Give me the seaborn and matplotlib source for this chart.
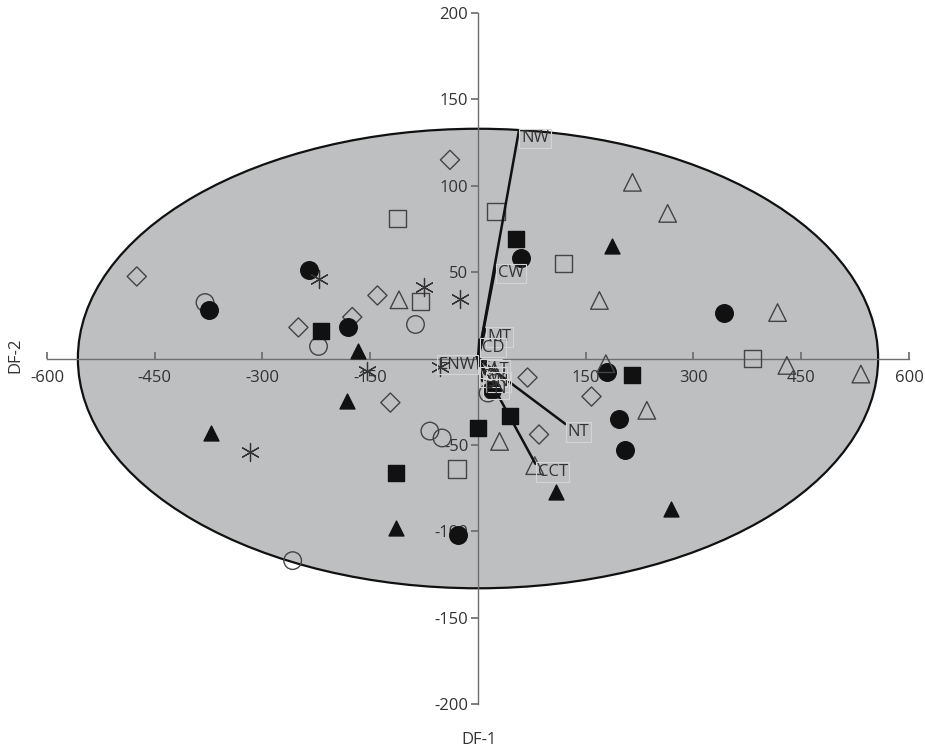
import numpy as np
import pandas as pd
import matplotlib
matplotlib.use("Agg")
import matplotlib.pyplot as plt
import seaborn as sns
from matplotlib.patches import Ellipse

# scores on the two discriminant functions, one pair of lists per group
open_diamond_x = [-475, -39, -140, -175, -250, -122, 69, 158, 85]
open_diamond_y = [47.5, 115, 36.5, 24, 18, -25.5, -11, -22, -44]

open_circle_x = [-380, -222, -87, -67, -50, -258, 14]
open_circle_y = [32.4, 7, 19.7, -42, -46, -117, -20]

filled_circle_x = [-375, -235, -181, 60, 19, 180, 196, 204, 343, -28]
filled_circle_y = [28, 51, 18.5, 58, -18, -8, -35, -53, 26.6, -102]

filled_square_x = [-218, 53, 214, 44, 0, -114]
filled_square_y = [16, 69, -9.5, -33, -40, -66.5]

open_square_x = [-112, -80, 25, 119, 382, -29]
open_square_y = [81, 33, 85, 55, 0, -64]

filled_tri_x = [-167, -182, -371, -114, 186, 108, 268]
filled_tri_y = [4.6, -24.5, -43, -98, 65, -77, -87]

open_tri_x = [-110, 215, 264, 169, 178, 417, 430, 533, 235, 30, 79]
open_tri_y = [34, 102, 84, 33.6, -3, 26.6, -4, -9, -30, -48, -62]

star_x = [-221, -75, -25, -154, -53, -317]
star_y = [46, 41.6, 34.7, -7.5, -5, -54]

# variable loadings (arrow ends) and their labels
var_names = ["NW", "CW", "MT", "CD", "ENW", "ST", "AT", "SW", "SN", "PN", "NT", "CCT"]
var_x = [57, 25, 10, 2, -2, 2, 12, 1, 10, 6, 122, 80]
var_y = [132, 54, 17, 11, 1, -1, -2, -6, -9, -13, -38, -61]

sns.set_theme(style="white")
plt.rcParams["font.family"] = ["Open Sans", "DejaVu Sans"]
plt.rcParams["axes.unicode_minus"] = False

fig = plt.figure(figsize=(9.25, 7.48), dpi=100)
ax = fig.add_axes([0.0508, 0.0588, 0.9319, 0.9238])

ell = Ellipse((0, 0), 2 * 557, 2 * 133, facecolor="#bebfc1", edgecolor="#111111", lw=1.6, zorder=0)
ax.add_patch(ell)

groups = [
    (open_diamond_x, open_diamond_y, "D", "none", "#444444", 95),
    (open_circle_x, open_circle_y, "o", "none", "#444444", 160),
    (filled_circle_x, filled_circle_y, "o", "#111111", "#111111", 160),
    (filled_square_x, filled_square_y, "s", "#111111", "#111111", 140),
    (open_square_x, open_square_y, "s", "none", "#444444", 160),
    (filled_tri_x, filled_tri_y, "^", "#111111", "#111111", 115),
    (open_tri_x, open_tri_y, "^", "none", "#444444", 160),
]
for gx, gy, m, fc, ec, s in groups:
    sns.scatterplot(x=gx, y=gy, marker=m, s=s, facecolor=fc, edgecolor=ec,
                    linewidth=1.0, ax=ax, zorder=3)
sns.scatterplot(x=star_x, y=star_y, marker=(6, 2, 0), s=170, color="#333333",
                linewidth=0.9, ax=ax, zorder=3)

for name, vx, vy in zip(var_names, var_x, var_y):
    ax.plot([0, vx], [0, vy], color="#111111", lw=1.8, zorder=4)
    ha = "right" if name == "ENW" else "left"
    ax.text(vx + (3 if ha == "left" else -1), vy, name, ha=ha, va="top", fontsize=12,
            color="#333333", zorder=5,
            bbox=dict(boxstyle="square,pad=0.1", facecolor="none", edgecolor="#d4d4d4", lw=0.8))

ax.set_xlim(-600, 600)
ax.set_ylim(-200, 200)
ax.set_facecolor("white")
ax.spines["left"].set_position("zero")
ax.spines["bottom"].set_position("zero")
ax.spines["right"].set_visible(False)
ax.spines["top"].set_visible(False)
for sp in ["left", "bottom"]:
    ax.spines[sp].set_color("#6e6e6e")
    ax.spines[sp].set_linewidth(1.0)

ax.set_xticks([-600, -450, -300, -150, 150, 300, 450, 600])
ax.set_yticks([-200, -150, -100, -50, 50, 100, 150, 200])
ax.tick_params(axis="x", direction="in", length=5, color="#6e6e6e", labelsize=12,
               labelcolor="#333333", bottom=True, pad=8)
ax.tick_params(axis="y", direction="out", length=5, color="#6e6e6e", labelsize=12,
               labelcolor="#333333", left=True, pad=2)
ax.grid(False)

fig.text(479 / 925, 1 - 740 / 748, "DF-1", ha="center", va="center", fontsize=12, color="#333333")
fig.text(15 / 925, 1 - 355 / 748, "DF-2", ha="center", va="center", rotation=90, fontsize=12, color="#333333")

fig.savefig("out.png", dpi=100)
